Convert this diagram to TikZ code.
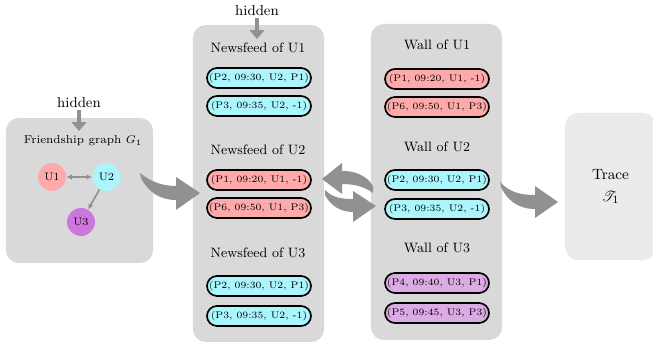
\documentclass[tikz,border=0pt]{standalone}
\usepackage{mathrsfs}
\usetikzlibrary{arrows.meta}
\definecolor{boxgray}{HTML}{D9D9D9}
\definecolor{tracegray}{HTML}{EBEBEB}
\definecolor{arrgray}{HTML}{919191}
\definecolor{pinkc}{HTML}{FFAAAA}
\definecolor{cyanc}{HTML}{AAF6FC}
\definecolor{purplec}{HTML}{DCAAE4}
\definecolor{purpledark}{HTML}{CC77DD}
\begin{document}
\begin{tikzpicture}[x=0.625pt,y=-0.625pt,
 panel/.style={fill=boxgray, rounded corners=8pt, draw=none, inner sep=0pt},
 entry/.style={draw=black, line width=1.05pt, rounded corners=6.25pt, minimum width=65pt, minimum height=12.5pt, inner sep=0pt, font=\fontsize{6}{7}\selectfont},
 title/.style={font=\fontsize{8.5}{10}\selectfont, inner sep=1pt},
 user/.style={circle, minimum size=17.5pt, inner sep=0pt, font=\fontsize{6.8}{8}\selectfont},
 hid/.style={font=\fontsize{9}{11}\selectfont, inner sep=1pt},
 hidarrow/.style={draw=arrgray, line width=2.6pt, -{Triangle[width=9pt,length=5.5pt]}},
 bigarrow/.style={fill=arrgray, draw=none},
 link/.style={draw=arrgray, line width=1pt}
]
\useasboundingbox (0,0) rectangle (653,347);
\clip (0,0) rectangle (653,347);

% panels
\node[panel, minimum width=91.9pt, minimum height=90.6pt] (p1) at (79.5,190.5) {};
\node[panel, minimum width=81.9pt, minimum height=198.1pt] (p2) at (258.5,183.5) {};
\node[panel, minimum width=81.9pt, minimum height=197.5pt] (p3) at (436.5,182) {};
\node[panel, fill=tracegray, minimum width=56.9pt, minimum height=91.9pt, align=center, font=\fontsize{9.3}{13}\selectfont] (p4) at (610.5,186.5) {Trace\\[1pt]$\mathscr{T}_1$};

% hidden labels
\node[hid] (hid1) at (79,103) {hidden};
\coordinate (h1end) at (79,131);
\draw[hidarrow] (hid1.south) -- (h1end);
\node[hid] (hid2) at (257,11) {hidden};
\coordinate (h2end) at (257,39);
\draw[hidarrow] (hid2.south) -- (h2end);

% friendship graph
\node[font=\fontsize{7.2}{9}\selectfont] (fg) at (83,141) {Friendship graph $G_1$};
\node[user, fill=pinkc] (u1) at (52,177) {U1};
\node[user, fill=cyanc] (u2) at (106.5,177) {U2};
\node[user, fill=purpledark] (u3) at (81,222) {U3};
\draw[link, {Latex[length=3.5pt,width=3.5pt]}-{Latex[length=3.5pt,width=3.5pt]}] (u1) -- (u2);
\draw[link, -{Latex[length=3.5pt,width=3.5pt]}] (u2) -- (u3);

% newsfeeds
\node[title] (nf1) at (258,48) {Newsfeed of U1};
\node[entry, fill=cyanc] (nf1a) at (259,78) {(P2, 09:30, U2, P1)};
\node[entry, fill=cyanc] (nf1b) at (259,106) {(P3, 09:35, U2, -1)};
\node[title] (nf2) at (258,150) {Newsfeed of U2};
\node[entry, fill=pinkc] (nf2a) at (259,180) {(P1, 09:20, U1, -1)};
\node[entry, fill=pinkc] (nf2b) at (259,208) {(P6, 09:50, U1, P3)};
\node[title] (nf3) at (258,253) {Newsfeed of U3};
\node[entry, fill=cyanc] (nf3a) at (259,286) {(P2, 09:30, U2, P1)};
\node[entry, fill=cyanc] (nf3b) at (259,316) {(P3, 09:35, U2, -1)};

% walls
\node[title] (w1) at (437,45) {Wall of U1};
\node[entry, fill=pinkc] (w1a) at (437,79) {(P1, 09:20, U1, -1)};
\node[entry, fill=pinkc] (w1b) at (437,107) {(P6, 09:50, U1, P3)};
\node[title] (w2) at (437,147) {Wall of U2};
\node[entry, fill=cyanc] (w2a) at (437,180) {(P2, 09:30, U2, P1)};
\node[entry, fill=cyanc] (w2b) at (437,209) {(P3, 09:35, U2, -1)};
\node[title] (w3) at (437,248) {Wall of U3};
\node[entry, fill=purplec] (w3a) at (437,283) {(P4, 09:40, U3, P1)};
\node[entry, fill=purplec] (w3b) at (437,313) {(P5, 09:45, U3, P3)};

% big curved arrows
\fill[bigarrow] (140,173) .. controls (152,183) and (165,186) .. (176,186) -- (176,177) -- (200,193) -- (176,210) -- (176,200) .. controls (160,200) and (148,192) .. (141,178) -- cycle;
\fill[bigarrow] (325,190) .. controls (333,198) and (342,199) .. (353,199) -- (353,191) -- (376,206) -- (353,222) -- (353,212) .. controls (340,212) and (330,205) .. (325,195) -- cycle;
\fill[bigarrow] (373,186) .. controls (366,175) and (355,171) .. (342,171) -- (342,163) -- (322,179) -- (342,194) -- (342,184) .. controls (355,184) and (365,187) .. (373,193) -- cycle;
\fill[bigarrow] (500,182) .. controls (510,193) and (522,195) .. (535,195) -- (535,186) -- (558,202) -- (535,218) -- (535,209) .. controls (518,209) and (507,200) .. (501,187) -- cycle;
\end{tikzpicture}
\end{document}
